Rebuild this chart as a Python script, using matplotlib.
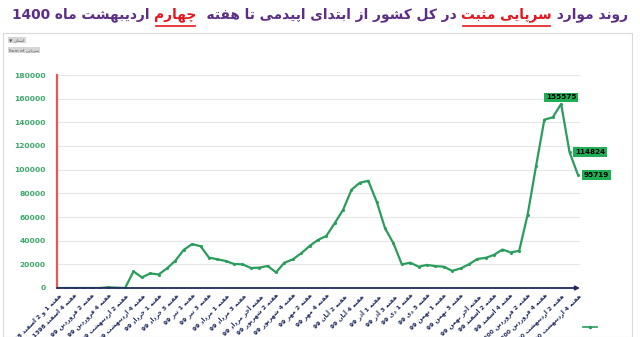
import matplotlib
matplotlib.use('Agg')
import matplotlib.pyplot as plt
from matplotlib.lines import Line2D
from matplotlib.patches import Rectangle

# هفته ها (هر دو هفته یک برچسب)
week_labels = [
    'هفته 1 و 2 اسفند 1398', 'هفته 4 اسفند 1398', 'هفته 2 فروردین 99', 'هفته 4 فروردین 99',
    'هفته 2 اردیبهشت 99', 'هفته 4 اردیبهشت 99', 'هفته 1 خرداد 99', 'هفته 3 خرداد 99',
    'هفته 1 تیر 99', 'هفته 3 تیر 99', 'هفته 1 مرداد 99', 'هفته 3 مرداد 99',
    'هفته آخر مرداد 99', 'هفته 2 شهریور 99', 'هفته 4 شهریور 99', 'هفته 2 مهر 99',
    'هفته 4 مهر 99', 'هفته 2 آبان 99', 'هفته 4 آبان 99', 'هفته 1 آذر 99',
    'هفته 3 آذر 99', 'هفته 1 دی 99', 'هفته 3 دی 99', 'هفته 1 بهمن 99',
    'هفته 3 بهمن 99', 'هفته آخر بهمن 99', 'هفته 2 اسفند 99', 'هفته 4 اسفند 99',
    'هفته 2 فروردین 1400', 'هفته 4 فروردین 1400', 'هفته 2 اردیبهشت 1400', 'هفته 4 اردیبهشت 1400',
]

# موارد سرپایی مثبت در هر هفته
cases = [
    0, 0, 0, 0, 0, 0, 600, 300, 0, 14000,
    9000, 12300, 11400, 16600, 23100, 32300, 37100, 35300, 25700, 24300,
    22800, 20300, 20000, 16900, 17200, 18600, 13200, 21400, 24200, 29300,
    35500, 40600, 44000, 54800, 66100, 83000, 89000, 90600, 73000, 50500,
    37800, 20000, 21400, 18000, 19500, 18500, 18000, 14500, 16500, 20000,
    24500, 25500, 28000, 32500, 30000, 31500, 61800, 102700, 142300, 144200,
    155575, 114824, 95719,
]

# نقاطی که برچسب دارند
labeled = [60, 61, 62]

title_parts = [
    ('روند موارد ', 'purple'),
    ('سرپایی مثبت', 'red'),
    (' در کل کشور از ابتدای اپیدمی تا هفته  ', 'purple'),
    ('چهارم', 'red'),
    (' اردیبهشت ماه 1400', 'purple'),
]

# --- minimal Arabic/Persian shaping (matplotlib has no bidi / shaping) ---
FORMS = {
    'ا': ('\uFE8D', '\uFE8E', None, None), 'آ': ('\uFE81', '\uFE82', None, None),
    'ب': ('\uFE8F', '\uFE90', '\uFE91', '\uFE92'), 'پ': ('\uFB56', '\uFB57', '\uFB58', '\uFB59'),
    'ت': ('\uFE95', '\uFE96', '\uFE97', '\uFE98'), 'ث': ('\uFE99', '\uFE9A', '\uFE9B', '\uFE9C'),
    'چ': ('\uFB7A', '\uFB7B', '\uFB7C', '\uFB7D'), 'خ': ('\uFEA5', '\uFEA6', '\uFEA7', '\uFEA8'),
    'د': ('\uFEA9', '\uFEAA', None, None), 'ذ': ('\uFEAB', '\uFEAC', None, None),
    'ر': ('\uFEAD', '\uFEAE', None, None), 'ز': ('\uFEAF', '\uFEB0', None, None),
    'س': ('\uFEB1', '\uFEB2', '\uFEB3', '\uFEB4'), 'ش': ('\uFEB5', '\uFEB6', '\uFEB7', '\uFEB8'),
    'ف': ('\uFED1', '\uFED2', '\uFED3', '\uFED4'), 'ک': ('\uFB8E', '\uFB8F', '\uFB90', '\uFB91'),
    'ل': ('\uFEDD', '\uFEDE', '\uFEDF', '\uFEE0'), 'م': ('\uFEE1', '\uFEE2', '\uFEE3', '\uFEE4'),
    'ن': ('\uFEE5', '\uFEE6', '\uFEE7', '\uFEE8'), 'و': ('\uFEED', '\uFEEE', None, None),
    'ه': ('\uFEE9', '\uFEEA', '\uFEEB', '\uFEEC'), 'ی': ('\uFBFC', '\uFBFD', '\uFBFE', '\uFBFF'),
}


def shape_word(w):
    out = []
    for i, c in enumerate(w):
        if c not in FORMS:
            out.append(c)
            continue
        prev = w[i - 1] if i > 0 else ''
        nxt = w[i + 1] if i + 1 < len(w) else ''
        jp = prev in FORMS and FORMS[prev][2] is not None
        jn = FORMS[c][2] is not None and nxt in FORMS
        idx = 3 if (jp and jn) else 1 if jp else 2 if jn else 0
        out.append(FORMS[c][idx])
    return ''.join(out)


def visual(s):
    toks = s.split(' ')
    res = []
    for t in toks:
        if any(ch in FORMS for ch in t):
            res.append(shape_word(t)[::-1])
        else:
            res.append(t)
    return ' '.join(res[::-1])


PURPLE = '#5b2d86'
RED = '#e3161e'
GREEN = '#2a9d5c'
NAVY = '#1f2a5e'

plt.rcParams['font.family'] = ['DejaVu Sans']

fig = plt.figure(figsize=(6.4, 3.37), dpi=100)
W, H = 640, 337

# chart frame
fig.patches.append(Rectangle((3 / W, 0), 629 / W, 1 - 33 / H, transform=fig.transFigure,
                             fill=False, edgecolor='#d9d9d9', lw=0.8))

ax = fig.add_axes([57 / W, (H - 288) / H, (580 - 57) / W, 213 / H])
x = list(range(len(cases)))
ax.plot(x, cases, color=GREEN, lw=1.6, marker='o', ms=1.2, zorder=3)
ax.set_xlim(-0.12, 62.25)
ax.set_ylim(0, 180000)
ax.set_yticks(range(0, 180001, 20000))
ax.set_yticklabels([str(v) for v in range(0, 180001, 20000)], color='#3aa868',
                   fontsize=5.4, fontweight='bold')
ax.tick_params(axis='y', length=0, pad=8)
ax.grid(axis='y', color='#e6e6e6', lw=0.8)
ax.set_axisbelow(True)
for s in ['top', 'right', 'bottom']:
    ax.spines[s].set_visible(False)
ax.spines['left'].set_color('#e05a5a')
ax.spines['left'].set_linewidth(1.6)
ax.annotate('', xy=(1.0, 0), xytext=(0, 0), xycoords='axes fraction',
            arrowprops=dict(arrowstyle='-|>', color=NAVY, lw=1.3, mutation_scale=6,
                            shrinkA=0, shrinkB=0), zorder=4)

ax.set_xticks(range(0, len(cases), 2))
ax.set_xticklabels([visual(l) for l in week_labels], rotation=45, ha='right', va='top',
                   rotation_mode='anchor', fontsize=4.3, fontweight='bold', color=NAVY)
ax.tick_params(axis='x', length=0, pad=3)

# data labels
offsets = {60: (0, 2.5, 'center', 'bottom'), 61: (4, 0, 'left', 'center'), 62: (4, 0, 'left', 'center')}
for i in labeled:
    dx, dy, ha, va = offsets[i]
    ax.annotate(str(cases[i]), (i, cases[i]), xytext=(dx, dy), textcoords='offset points',
                ha=ha, va=va, fontsize=5.2, fontweight='bold', color='black', zorder=5,
                bbox=dict(boxstyle='square,pad=0.25', fc='#1fae55', ec='none'))

# legend mark
fig.add_artist(Line2D([583 / W, 597 / W], [(H - 327) / H] * 2, color=GREEN, lw=1.2,
                      transform=fig.transFigure))
fig.add_artist(Line2D([590 / W], [(H - 327) / H], color=GREEN, marker='o', ms=1.5,
                      transform=fig.transFigure))

# filter buttons
fig.text(9 / W, 1 - 40 / H, '\u25BC ' + visual('استان'), fontsize=3.2, color='#555555',
         va='center', ha='left', bbox=dict(boxstyle='square,pad=0.3', fc='#d6d6d6', ec='none'))
fig.text(9 / W, 1 - 50 / H, 'Sum of ' + visual('سرپایی'), fontsize=3.2, color='#555555',
         va='center', ha='left', bbox=dict(boxstyle='square,pad=0.3', fc='#d6d6d6', ec='none'))

# title, laid out right-to-left in pieces
fig.canvas.draw()
renderer = fig.canvas.get_renderer()
pieces = []
for txt, col in reversed(title_parts):
    c = PURPLE if col == 'purple' else RED
    t = fig.text(0, 1 - 15 / H, visual(txt), fontsize=14, fontweight='bold', color=c,
                 va='center', ha='left')
    pieces.append((t, col))
widths = [t.get_window_extent(renderer).width for t, _ in pieces]
total = sum(widths)
scale = 618 / total
for t, _ in pieces:
    t.set_fontsize(14 * scale)
fig.canvas.draw()
widths = [t.get_window_extent(renderer).width for t, _ in pieces]
xpos = (W - sum(widths)) / 2
for (t, col), w in zip(pieces, widths):
    t.set_x(xpos / W)
    if col == 'red':
        fig.add_artist(Line2D([(xpos + 2) / W, (xpos + w - 2) / W], [1 - 26 / H] * 2,
                              color=RED, lw=1.2, transform=fig.transFigure))
    xpos += w

fig.savefig('out.png', dpi=100)
